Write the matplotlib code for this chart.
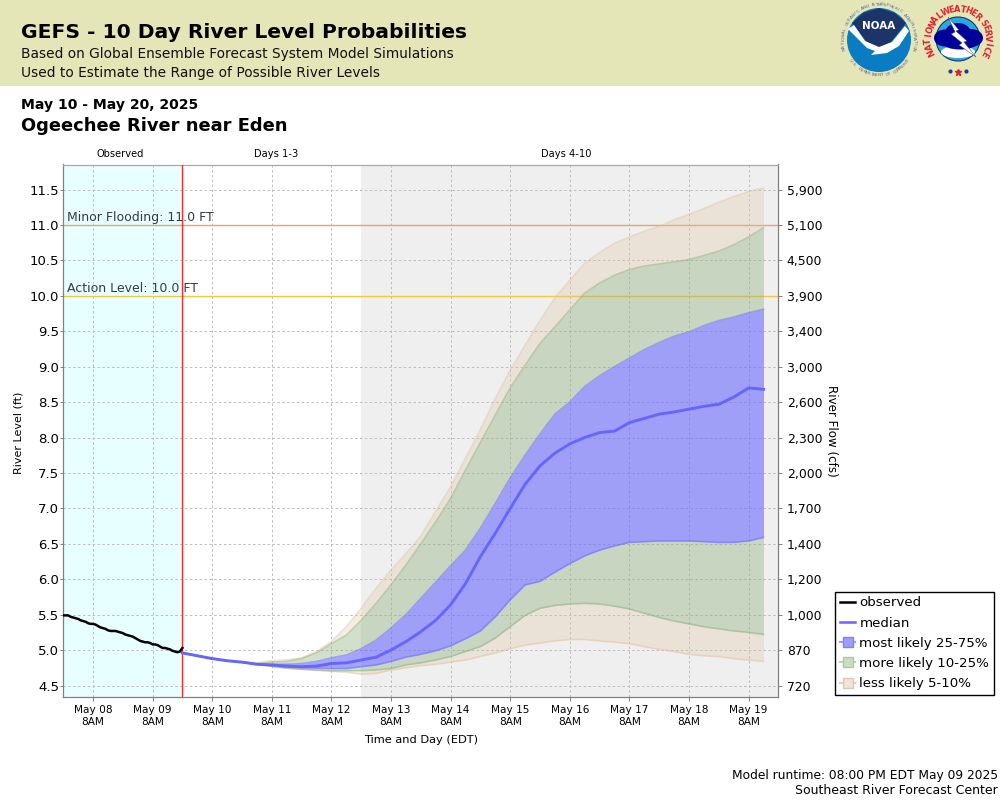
import numpy as np
import pandas as pd
import matplotlib
matplotlib.use("Agg")
import matplotlib.pyplot as plt
import matplotlib.dates as mdates
from matplotlib.lines import Line2D
from matplotlib.patches import Circle, Polygon, Rectangle, Ellipse

# hourly observed stage, ft
observed = [5.49, 5.49, 5.49, 5.47, 5.46, 5.45, 5.44, 5.42, 5.41, 5.40,
            5.38, 5.37, 5.37, 5.36, 5.34, 5.32, 5.31, 5.30, 5.28, 5.27,
            5.27, 5.27, 5.26, 5.25, 5.24, 5.22, 5.21, 5.20, 5.19, 5.17,
            5.15, 5.13, 5.12, 5.11, 5.11, 5.10, 5.08, 5.08, 5.07, 5.05,
            5.03, 5.03, 5.02, 5.01, 4.99, 4.98, 4.97, 4.98, 5.03]

# 6 hourly forecast percentiles, ft
median = [4.96, 4.92, 4.88, 4.85, 4.83, 4.80, 4.79, 4.775, 4.765, 4.775,
          4.81, 4.82, 4.86, 4.90, 5.00, 5.12, 5.26, 5.42, 5.64, 5.94,
          6.32, 6.65, 7.00, 7.34, 7.60, 7.78, 7.91, 8.00, 8.07, 8.09,
          8.21, 8.27, 8.33, 8.36, 8.40, 8.44, 8.47, 8.57, 8.70, 8.68]
p75 = [4.96, 4.92, 4.88, 4.85, 4.83, 4.80, 4.80, 4.80, 4.81, 4.84,
       4.89, 4.93, 5.02, 5.14, 5.31, 5.50, 5.73, 5.96, 6.19, 6.41,
       6.72, 7.07, 7.43, 7.75, 8.05, 8.33, 8.50, 8.72, 8.87, 9.00,
       9.12, 9.24, 9.34, 9.43, 9.49, 9.58, 9.65, 9.70, 9.76, 9.81]
p25 = [4.96, 4.92, 4.88, 4.85, 4.83, 4.80, 4.78, 4.76, 4.75, 4.745,
       4.74, 4.74, 4.765, 4.79, 4.84, 4.90, 4.94, 4.99, 5.06, 5.16,
       5.27, 5.47, 5.71, 5.92, 5.97, 6.10, 6.22, 6.33, 6.41, 6.47,
       6.52, 6.53, 6.54, 6.54, 6.54, 6.53, 6.52, 6.52, 6.54, 6.59]
p90 = [4.96, 4.92, 4.88, 4.85, 4.83, 4.81, 4.83, 4.84, 4.88, 4.96,
       5.09, 5.21, 5.42, 5.66, 5.92, 6.20, 6.50, 6.81, 7.14, 7.54,
       7.93, 8.32, 8.70, 9.02, 9.33, 9.56, 9.80, 10.04, 10.18, 10.29,
       10.37, 10.42, 10.45, 10.48, 10.51, 10.57, 10.63, 10.72, 10.83, 10.96]
p10 = [4.96, 4.92, 4.88, 4.85, 4.83, 4.80, 4.77, 4.745, 4.73, 4.72,
       4.71, 4.71, 4.71, 4.72, 4.74, 4.79, 4.82, 4.86, 4.91, 4.98,
       5.05, 5.17, 5.33, 5.49, 5.59, 5.63, 5.65, 5.66, 5.65, 5.62,
       5.58, 5.52, 5.46, 5.41, 5.37, 5.33, 5.30, 5.27, 5.25, 5.22]
p95 = [4.96, 4.92, 4.88, 4.85, 4.83, 4.82, 4.85, 4.86, 4.89, 4.98,
       5.12, 5.33, 5.59, 5.87, 6.13, 6.36, 6.61, 6.96, 7.30, 7.71,
       8.11, 8.55, 8.95, 9.30, 9.65, 9.97, 10.22, 10.46, 10.61, 10.74,
       10.83, 10.91, 10.98, 11.07, 11.15, 11.23, 11.32, 11.40, 11.47, 11.52]
p05 = [4.96, 4.92, 4.88, 4.85, 4.83, 4.80, 4.77, 4.745, 4.73, 4.715,
       4.70, 4.69, 4.66, 4.67, 4.72, 4.75, 4.78, 4.80, 4.83, 4.86,
       4.91, 4.96, 5.02, 5.07, 5.10, 5.13, 5.15, 5.15, 5.13, 5.11,
       5.09, 5.05, 5.01, 4.98, 4.94, 4.92, 4.91, 4.88, 4.86, 4.84]

stage_ticks = [4.5, 5.0, 5.5, 6.0, 6.5, 7.0, 7.5, 8.0, 8.5, 9.0, 9.5, 10.0, 10.5, 11.0, 11.5]
flow_labels = ["720", "870", "1,000", "1,200", "1,400", "1,700", "2,000", "2,300",
               "2,600", "3,000", "3,400", "3,900", "4,500", "5,100", "5,900"]
day_ticks = pd.date_range("2025-05-08 08:00", periods=12, freq="D")

obs_times = pd.date_range("2025-05-07 20:00", periods=len(observed), freq="h")
fc_times = pd.date_range("2025-05-09 20:00", periods=len(median), freq="6h")

BLUE = "#6a6aff"
GREEN = "#8db07e"
TAN = "#e0c4a0"
plt.rcParams["font.family"] = "DejaVu Sans"


def ring_text(ov, text, cx, cy, r, start, end, color, size, weight="normal", flip=False):
    # one letter at a time round a circle, angles in degrees, pixel y goes down
    angles = np.linspace(start, end, len(text))
    for ch, a in zip(text, angles):
        t = np.radians(a)
        x = cx + r * np.cos(t)
        y = cy - r * np.sin(t)
        rot = a + 90 if flip else a - 90
        ov.text(x, y, ch, color=color, fontsize=size, fontweight=weight, rotation=rot,
                ha="center", va="center", rotation_mode="anchor")


def draw_noaa(ov, cx, cy):
    ov.add_patch(Circle((cx, cy), 32, fc="#0a7dc2", ec="none"))
    navy = [(cx - 27, cy - 17), (cx - 16, cy - 27), (cx, cy - 32), (cx + 16, cy - 27),
            (cx + 27, cy - 17), (cx + 12, cy + 2), (cx, cy + 8), (cx - 12, cy + 2)]
    ov.add_patch(Polygon(navy, fc="#1c3468", ec="none"))
    bird = [(cx - 31, cy - 11), (cx - 25, cy - 15), (cx - 14, cy + 1), (cx, cy + 7),
            (cx + 13, cy + 2), (cx + 26, cy - 14), (cx + 30, cy - 9), (cx + 20, cy + 6),
            (cx + 8, cy + 13), (cx - 8, cy + 15), (cx - 4, cy + 11), (cx - 12, cy + 8)]
    ov.add_patch(Polygon(bird, fc="white", ec="none"))
    ov.text(cx, cy - 14, "NOAA", color="white", fontsize=7.5, fontweight="bold", ha="center", va="center")
    ring_text(ov, "NATIONAL OCEANIC AND ATMOSPHERIC ADMINISTRATION", cx, cy, 35.5, 195, -15,
              "#56688f", 3.2)
    ring_text(ov, "U.S. DEPARTMENT OF COMMERCE", cx, cy, 35.5, 215, 325, "#56688f", 3.2, flip=True)


def draw_nws(ov, cx, cy):
    ov.add_patch(Circle((cx, cy), 22, fc="#29a8df", ec="#1c3468", lw=0.8))
    ov.add_patch(Ellipse((cx, cy + 13), 34, 12, fc="white", ec="none"))
    for dx, dy, w, h in [(-13, -1, 22, 17), (0, -6, 26, 20), (13, -1, 24, 18), (2, 5, 32, 11)]:
        ov.add_patch(Ellipse((cx + dx, cy + dy), w, h, fc="#000099", ec="none"))
    bolt = [(cx - 10, cy - 22), (cx + 1, cy - 9), (cx - 2, cy - 8), (cx + 9, cy + 2),
            (cx + 6, cy + 3), (cx + 18, cy + 18), (cx + 1, cy + 6), (cx + 4, cy + 4),
            (cx - 7, cy - 5), (cx - 3, cy - 7)]
    ov.add_patch(Polygon(bolt, fc="white", ec="#1c3468", lw=0.3))
    ring_text(ov, "NATIONAL", cx, cy, 29.5, 207, 128, "#e21f2d", 6, "bold")
    ring_text(ov, "WEATHER", cx, cy, 29.5, 113, 48, "#e21f2d", 6, "bold")
    ring_text(ov, "SERVICE", cx, cy, 29.5, 33, -30, "#e21f2d", 6, "bold")
    ov.plot([cx - 8, cx + 8], [cy + 32, cy + 32], ls="none", marker="o", ms=2, color="#2233aa")
    ov.plot([cx], [cy + 33], ls="none", marker="*", ms=4.5, color="#e21f2d")


def main():
    fig = plt.figure(figsize=(10, 8), dpi=100, facecolor="white")

    # everything outside the plot is placed in pixels on this overlay
    ov = fig.add_axes([0, 0, 1, 1], zorder=0)
    ov.set_xlim(0, 1000)
    ov.set_ylim(800, 0)
    ov.axis("off")
    ov.add_patch(Rectangle((0, 0), 1000, 85.5, fc="#e5e6b8", ec="none"))
    ov.text(21, 33, "GEFS - 10 Day River Level Probabilities", fontsize=14.55, fontweight="bold", va="center")
    ov.text(21, 54, "Based on Global Ensemble Forecast System Model Simulations", fontsize=9.95, color="#111111", va="center")
    ov.text(21, 73, "Used to Estimate the Range of Possible River Levels", fontsize=9.95, color="#111111", va="center")
    ov.text(21, 105, "May 10 - May 20, 2025", fontsize=10.05, fontweight="bold", va="center")
    ov.text(21, 126, "Ogeechee River near Eden", fontsize=12.85, fontweight="bold", va="center")
    ov.text(120, 154, "Observed", fontsize=7.1, ha="center", va="center")
    ov.text(276, 154, "Days 1-3", fontsize=7.1, ha="center", va="center")
    ov.text(566, 154, "Days 4-10", fontsize=7.1, ha="center", va="center")
    ov.text(998, 775, "Model runtime: 08:00 PM EDT May 09 2025", fontsize=8.8, ha="right", va="center")
    ov.text(998, 791, "Southeast River Forecast Center", fontsize=9, ha="right", va="center")
    draw_noaa(ov, 879, 40)
    draw_nws(ov, 958, 39)

    ax = fig.add_axes([0.0632, 103 / 800, 0.7152, 532.5 / 800], zorder=1)
    ax.set_facecolor("white")
    x0 = pd.Timestamp("2025-05-07 20:00")
    x1 = pd.Timestamp("2025-05-19 20:00")
    split = pd.Timestamp("2025-05-09 20:00")
    grey_from = pd.Timestamp("2025-05-12 20:00")
    ax.set_xlim(x0, x1)
    ax.set_ylim(4.338, 11.853)

    ax.axvspan(x0, split, color="#e8ffff", lw=0, zorder=0)
    ax.axvspan(grey_from, x1, color="#efefef", lw=0, zorder=0)
    ax.grid(True, color="#bcbcbc", ls=(0, (2.5, 2.5)), lw=0.7, zorder=1)
    ax.set_axisbelow(True)

    ax.axhline(11.0, color="#f0a060", lw=1.0, zorder=2)
    ax.axhline(10.0, color="#f5c842", lw=1.0, zorder=2)
    ax.text(0.0055, 11.015, "Minor Flooding: 11.0 FT", transform=ax.get_yaxis_transform(),
            fontsize=9, color="#333c44", va="bottom", zorder=6)
    ax.text(0.0055, 10.015, "Action Level: 10.0 FT", transform=ax.get_yaxis_transform(),
            fontsize=9, color="#333c44", va="bottom", zorder=6)

    for low, high, colour, alpha in [(p90, p95, TAN, 0.3), (p05, p10, TAN, 0.3),
                                     (p75, p90, GREEN, 0.4), (p10, p25, GREEN, 0.4),
                                     (p25, p75, BLUE, 0.6)]:
        ax.fill_between(fc_times, low, high, color=colour, alpha=alpha, lw=0, zorder=3)
    for band, colour in [(p95, TAN), (p05, TAN), (p90, GREEN), (p10, GREEN), (p75, BLUE), (p25, BLUE)]:
        ax.plot(fc_times, band, color=colour, lw=1.2, alpha=0.5, zorder=4)

    ax.axvline(split, color="#ff2a2a", lw=1.0, zorder=5)
    ax.plot(fc_times, median, color="#6666ff", lw=2.1, zorder=6)
    ax.plot(obs_times, observed, color="black", lw=1.8, zorder=7)

    ax.set_yticks(stage_ticks)
    ax.set_yticklabels([f"{v:.1f}" for v in stage_ticks])
    ax.set_xticks(day_ticks)
    ax.xaxis.set_major_formatter(mdates.DateFormatter("%b %d\n8AM"))
    ax.tick_params(axis="y", labelsize=9.5, length=2, width=0.7, color="#808080", pad=1)
    ax.tick_params(axis="x", labelsize=7.6, length=3, width=0.7, color="#808080", pad=3)
    ax.set_ylabel("River Level (ft)", fontsize=8.0)
    ax.yaxis.set_label_coords(-0.0553, 0.496)
    ax.set_xlabel("Time and Day (EDT)", fontsize=8.2, labelpad=5.5)

    ax.spines["left"].set_color("#808080")
    ax.spines["bottom"].set_color("#808080")
    ax.spines["top"].set_color("#a8a8a8")
    ax.spines["right"].set_color("#808080")
    for s in ax.spines.values():
        s.set_linewidth(0.9)

    axr = ax.twinx()
    axr.set_ylim(ax.get_ylim())
    axr.set_yticks(stage_ticks)
    axr.set_yticklabels(flow_labels)
    axr.tick_params(axis="y", labelsize=8.9, length=3, width=0.7, color="#808080", pad=3)
    axr.set_ylabel("River Flow (cfs)", fontsize=8.6, rotation=270, va="center")
    axr.yaxis.set_label_coords(1.0745, 0.5)
    for s in axr.spines.values():
        s.set_visible(False)

    handles = [
        Line2D([], [], color="black", lw=1.8, label="observed"),
        Line2D([], [], color="#6666ff", lw=1.8, label="median"),
        Line2D([], [], color="#9f9ffb", lw=1.5, marker="s", ms=6.5, mfc="#9f9ffb", mec="#8080ff", label="most likely 25-75%"),
        Line2D([], [], color="#b7d3a8", lw=1.5, marker="s", ms=6.5, mfc="#cbdcc0", mec="#a8cc98", label="more likely 10-25%"),
        Line2D([], [], color="#e6cfb4", lw=1.5, marker="s", ms=6.5, mfc="#f0e4d6", mec="#e0c8ac", label="less likely 5-10%"),
    ]
    leg = fig.legend(handles=handles, loc="lower left", bbox_to_anchor=(0.8352, 0.1312),
                     fontsize=9.6, frameon=True, fancybox=False, edgecolor="black", framealpha=1,
                     borderaxespad=0, borderpad=0.36, handlelength=1.15, handletextpad=0.3,
                     labelspacing=0.54)
    leg.get_frame().set_linewidth(1.0)
    leg.set_zorder(5)

    fig.savefig("out.png", dpi=100)


if __name__ == "__main__":
    main()
